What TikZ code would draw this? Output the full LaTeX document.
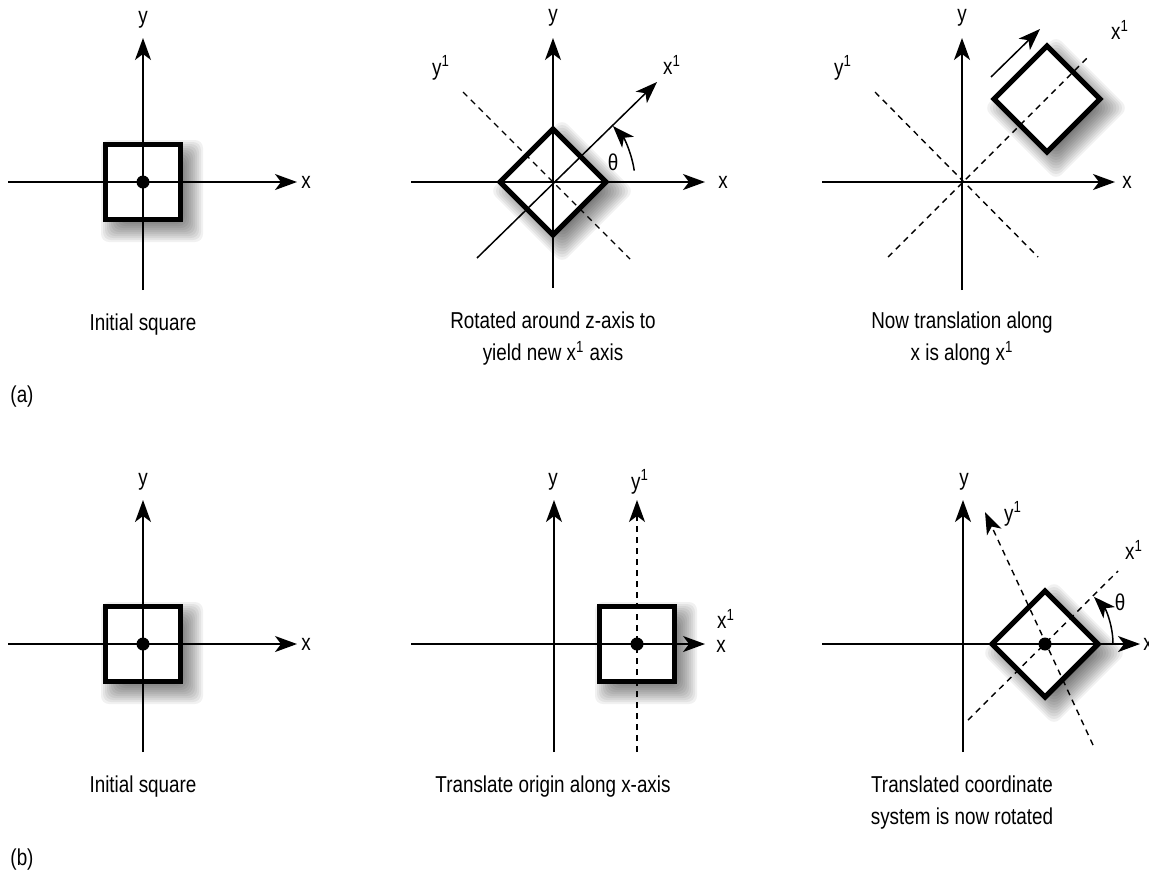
\documentclass[tikz,border=0pt]{standalone}
\usepackage{fontspec}
\setmainfont{Liberation Sans}[FakeStretch=0.82]
\usetikzlibrary{arrows.meta}
\tikzset{
  axis/.style={line width=0.75pt},
  axisarrow/.style={line width=0.75pt,-{Stealth[length=11pt,width=8pt,inset=3pt]}},
  dashax/.style={line width=0.7pt,dash pattern=on 3pt off 2.5pt},
  dasharrow/.style={dashax,-{Stealth[length=11pt,width=8pt,inset=3pt]}},
  sqborder/.style={line width=2.6pt,line join=miter},
  lbl/.style={inner sep=0pt,font=\fontsize{11.5}{13}\selectfont},
  caption/.style={inner sep=0pt,align=center,font=\fontsize{11.5}{16}\selectfont},
  dotnode/.style={circle,fill=black,inner sep=0pt,minimum size=6.5pt},
}
\newcommand\boxshadow[3]{%
  \begin{scope}[shift={(#1+9,#2-9)},rotate=#3]
    \foreach \k in {0,...,13}{
      \pgfmathsetmacro\s{51-2*\k}
      \fill[black,opacity=0.055,rounded corners=4pt] (-\s,-\s) rectangle (\s,\s);
    }
  \end{scope}}
\newcommand\boxfill[3]{%
  \begin{scope}[shift={(#1,#2)},rotate=#3]
    \fill[white] (-37.5,-37.5) rectangle (37.5,37.5);
  \end{scope}}
\newcommand\boxborder[3]{%
  \begin{scope}[shift={(#1,#2)},rotate=#3]
    \draw[sqborder] (-37.5,-37.5) rectangle (37.5,37.5);
  \end{scope}}
\begin{document}
\begin{tikzpicture}[x=0.5pt,y=0.5pt]
\useasboundingbox[fill=white] (0,0) rectangle (1149,-875);

% ================= (a) panel 1 =================
\coordinate (a1o) at (143,-182);
\coordinate (a1xs) at (8,-182);   \coordinate (a1xe) at (297,-182);
\coordinate (a1ys) at (143,-290); \coordinate (a1ye) at (143,-38);
\boxshadow{143}{-182}{0}
\boxfill{143}{-182}{0}
\draw[axisarrow] (a1xs) -- (a1xe);
\draw[axisarrow] (a1ys) -- (a1ye);
\boxborder{143}{-182}{0}
\node[dotnode] (a1dot) at (a1o) {};
\node[lbl] (a1y) at (143,-20) {y};
\node[lbl] (a1x) at (306,-182) {x};
\node[caption] (a1cap) at (143,-325) {Initial square};

% ================= (a) panel 2 =================
\coordinate (a2o) at (553,-182);
\coordinate (a2xs) at (411,-182);  \coordinate (a2xe) at (705,-182);
\coordinate (a2ys) at (553,-288);  \coordinate (a2ye) at (553,-38);
\coordinate (a2x1s) at (477,-258); \coordinate (a2x1e) at (657,-82);
\coordinate (a2y1s) at (463,-92);  \coordinate (a2y1e) at (630,-259);
\boxshadow{553}{-182}{45}
\boxfill{553}{-182}{45}
\draw[axisarrow] (a2xs) -- (a2xe);
\draw[axisarrow] (a2ys) -- (a2ye);
\draw[axisarrow] (a2x1s) -- (a2x1e);
\draw[dashax] (a2y1s) -- (a2y1e);
\boxborder{553}{-182}{45}
\draw[axisarrow] (a2o) ++(8:82) arc[start angle=8,end angle=43,radius=82];
\node[lbl] (a2y) at (553,-18) {y};
\node[lbl] (a2x) at (723,-182) {x};
\node[lbl] (a2x1) at (672,-65) {x\textsuperscript{1}};
\node[lbl] (a2y1) at (441,-68) {y\textsuperscript{1}};
\node[lbl] (a2th) at (613,-162) {θ};
\node[caption] (a2cap) at (553,-339) {Rotated around z-axis to\\yield new x\textsuperscript{1} axis};

% ================= (a) panel 3 =================
\coordinate (a3o) at (962,-182);
\coordinate (a3xs) at (822,-182);  \coordinate (a3xe) at (1115,-182);
\coordinate (a3ys) at (962,-290);  \coordinate (a3ye) at (962,-38);
\coordinate (a3x1s) at (888,-257); \coordinate (a3x1e) at (1088,-57);
\coordinate (a3y1s) at (875,-92);  \coordinate (a3y1e) at (1038,-257);
\coordinate (a3ms) at (991,-77);   \coordinate (a3me) at (1040,-29);
\boxshadow{1047}{-99}{45}
\boxfill{1047}{-99}{45}
\draw[axisarrow] (a3xs) -- (a3xe);
\draw[axisarrow] (a3ys) -- (a3ye);
\draw[dashax] (a3x1s) -- (a3x1e);
\draw[dashax] (a3y1s) -- (a3y1e);
\boxborder{1047}{-99}{45}
\draw[axisarrow] (a3ms) -- (a3me);
\node[lbl] (a3y) at (962,-18) {y};
\node[lbl] (a3x) at (1127,-182) {x};
\node[lbl] (a3x1) at (1120,-30) {x\textsuperscript{1}};
\node[lbl] (a3y1) at (843,-68) {y\textsuperscript{1}};
\node[caption] (a3cap) at (962,-339) {Now translation along\\x is along x\textsuperscript{1}};

\node[caption] (alab) at (22,-397) {(a)};

% ================= (b) panel 1 =================
\coordinate (b1o) at (143,-644);
\coordinate (b1xs) at (8,-644);   \coordinate (b1xe) at (297,-644);
\coordinate (b1ys) at (143,-752); \coordinate (b1ye) at (143,-500);
\boxshadow{143}{-644}{0}
\boxfill{143}{-644}{0}
\draw[axisarrow] (b1xs) -- (b1xe);
\draw[axisarrow] (b1ys) -- (b1ye);
\boxborder{143}{-644}{0}
\node[dotnode] (b1dot) at (b1o) {};
\node[lbl] (b1y) at (143,-482) {y};
\node[lbl] (b1x) at (306,-644) {x};
\node[caption] (b1cap) at (143,-787) {Initial square};

% ================= (b) panel 2 =================
\coordinate (b2o) at (554,-644);
\coordinate (b2c) at (637,-644);
\coordinate (b2xs) at (411,-644);  \coordinate (b2xe) at (705,-644);
\coordinate (b2ys) at (554,-752);  \coordinate (b2ye) at (554,-500);
\coordinate (b2y1s) at (637,-752); \coordinate (b2y1e) at (637,-500);
\boxshadow{637}{-644}{0}
\boxfill{637}{-644}{0}
\draw[axisarrow] (b2xs) -- (b2xe);
\draw[axisarrow] (b2ys) -- (b2ye);
\draw[dasharrow] (b2y1s) -- (b2y1e);
\boxborder{637}{-644}{0}
\node[dotnode] (b2dot) at (b2c) {};
\node[lbl] (b2y) at (553,-482) {y};
\node[lbl] (b2y1) at (640,-482) {y\textsuperscript{1}};
\node[lbl] (b2x1) at (726,-619) {x\textsuperscript{1}};
\node[lbl] (b2x) at (721,-646) {x};
\node[caption] (b2cap) at (553,-787) {Translate origin along x-axis};

% ================= (b) panel 3 =================
\coordinate (b3o) at (963,-644);
\coordinate (b3c) at (1045,-644);
\coordinate (b3xs) at (822,-644);   \coordinate (b3xe) at (1140,-644);
\coordinate (b3ys) at (963,-752);   \coordinate (b3ye) at (963,-500);
\coordinate (b3y1s) at (1093,-745); \coordinate (b3y1e) at (985,-512);
\coordinate (b3x1s) at (968,-720);  \coordinate (b3x1e) at (1118,-571);
\boxshadow{1045}{-644}{45}
\boxfill{1045}{-644}{45}
\draw[axisarrow] (b3xs) -- (b3xe);
\draw[axisarrow] (b3ys) -- (b3ye);
\draw[dasharrow] (b3y1s) -- (b3y1e);
\draw[dashax] (b3x1s) -- (b3x1e);
\boxborder{1045}{-644}{45}
\node[dotnode] (b3dot) at (b3c) {};
\draw[axisarrow] (b3c) ++(0:68) arc[start angle=0,end angle=44,radius=68];
\node[lbl] (b3y) at (964,-482) {y};
\node[lbl] (b3y1) at (1013,-514) {y\textsuperscript{1}};
\node[lbl] (b3x1) at (1134,-550) {x\textsuperscript{1}};
\node[lbl] (b3th) at (1120,-602) {θ};
\node[lbl,anchor=west] (b3x) at (1143,-644) {x};
\node[caption] (b3cap) at (962,-803) {Translated coordinate\\system is now rotated};

\node[caption] (blab) at (22,-860) {(b)};
\end{tikzpicture}
\end{document}
